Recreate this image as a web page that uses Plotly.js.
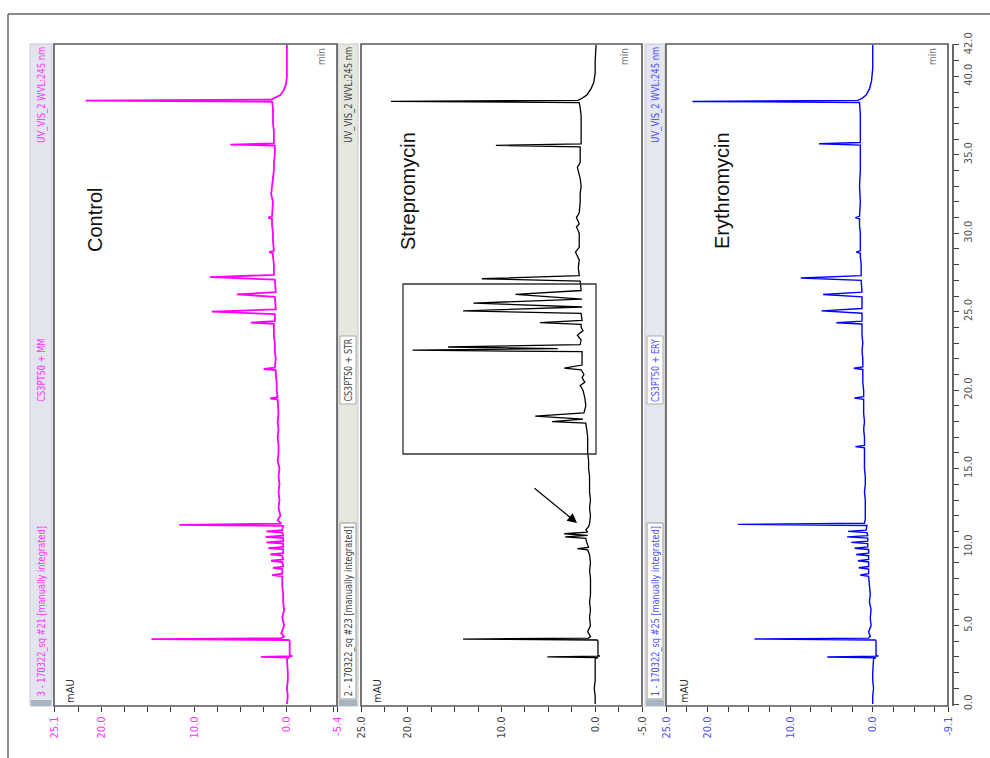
<!DOCTYPE html>
<html>
<head>
<meta charset="utf-8">
<script src="https://cdn.plot.ly/plotly-3.0.1.min.js"></script>
<style>html,body{margin:0;padding:0;background:#fff}#chart{width:990px;height:758px}</style>
</head>
<body>
<div id="chart"></div>
<script>
// ---------- DATA ----------
// Control (magenta): retention time (min) and signal (mAU)
const controlTime = [0,0.5,1,1.5,2,2.5,2.9,2.95,3.0,3.05,3.1,3.5,4.0,4.08,4.14,4.2,4.3,4.5,5,5.5,6,6.5,7,7.5,8,8.14,8.22,8.3,8.6,8.68,8.76,9.05,9.13,9.21,9.45,9.53,9.61,9.85,9.93,10.01,10.22,10.3,10.38,10.57,10.65,10.73,10.92,11.0,11.08,11.35,11.42,11.5,11.7,12,12.5,13,13.5,14,14.5,15,15.5,16,16.5,17,17.5,18,18.5,19,19.4,19.47,19.55,20,20.5,21,21.28,21.35,21.43,22,22.5,23,23.5,24,24.22,24.3,24.4,24.85,25.0,25.15,25.95,26.1,26.25,27.05,27.2,27.35,28,28.5,28.72,28.8,28.88,29.5,30,30.5,30.92,31.0,31.08,32,32.5,33,33.5,34,34.5,35,35.5,35.58,35.65,35.73,36.5,37,37.5,38,38.38,38.45,38.52,38.65,38.8,39.1,39.5,40,41,42];
const controlMAU  = [0,-0.1,0,-0.1,-0.1,0,0,-0.3,2.8,-0.6,-0.3,-0.3,-0.3,-0.2,14.6,0.6,0.3,0.6,0.3,0.5,0.3,0.4,0.4,0.5,0.5,0.5,1.6,0.5,0.5,1.5,0.4,0.5,1.7,0.4,0.5,1.8,0.4,0.4,2.0,0.4,0.4,2.2,0.4,0.4,2.3,0.4,0.5,2.2,0.5,0.4,11.6,0.6,1.0,0.7,0.9,0.8,0.9,0.8,0.9,0.8,1.0,0.9,0.9,1.0,0.9,1.0,0.9,1.0,1.0,1.8,1.0,1.1,1.1,1.2,1.2,2.5,1.3,1.2,1.3,1.3,1.4,1.4,1.4,3.9,1.3,1.3,8.1,1.2,1.3,5.4,1.2,1.3,8.3,1.4,1.4,1.5,1.5,1.9,1.4,1.5,1.5,1.6,1.6,2.0,1.6,1.5,1.7,1.6,1.5,1.4,1.4,1.3,1.3,1.3,6.1,1.4,1.4,1.5,1.5,1.5,1.6,21.7,1.7,1.2,0.7,0.35,0.1,0.0,0.0,0.0];

// Streptomycin (black)
const strepTime = [0,0.5,1,1.5,2,2.5,2.9,2.95,3.0,3.05,3.1,4.0,4.08,4.14,4.2,4.3,4.6,5,5.5,6,6.5,7,7.5,8,8.5,9,9.5,9.82,9.9,9.98,10.3,10.55,10.65,10.75,10.85,10.95,11.1,11.3,11.5,12,12.5,13,13.5,14,14.5,15,15.5,16,16.5,17,17.5,17.9,18.0,18.15,18.35,18.55,19,19.5,20,20.3,20.5,20.8,21,21.3,21.4,21.6,22,22.45,22.55,22.65,22.75,22.9,23.2,23.5,23.8,24,24.2,24.3,24.45,24.9,25.05,25.3,25.55,25.8,26.1,26.35,26.95,27.1,27.3,27.8,28.3,28.8,29.1,29.5,30,30.4,30.6,31,31.3,32,32.5,33,33.5,34.2,34.5,35,35.5,35.6,35.7,36.5,37,37.5,38,38.33,38.4,38.47,38.6,38.8,39.2,39.6,40.2,41,42];
const strepMAU  = [0,0,0.1,0,0,0,0,-0.3,5.1,-0.5,-0.3,-0.3,-0.2,14.1,0.7,0.5,0.8,0.5,0.6,0.5,0.6,0.5,0.5,0.5,0.6,0.5,0.6,0.8,1.9,0.7,0.9,1.0,3.2,0.8,3.3,0.8,1.0,0.7,0.6,0.5,0.6,0.5,0.6,0.6,0.6,0.7,0.7,0.8,0.8,0.8,0.9,1.0,4.6,1.3,6.4,1.2,1.0,1.1,1.3,1.6,1.1,1.4,1.2,1.5,3.3,1.4,1.4,1.4,19.5,4.0,15.7,1.6,1.5,1.9,1.3,1.5,1.5,5.9,1.4,1.5,14.1,1.4,13.0,1.4,8.5,1.5,1.6,12.1,1.7,1.8,1.7,2.1,1.7,1.7,1.7,2.0,1.7,2.0,1.7,1.6,1.6,1.5,1.6,1.9,1.6,1.6,1.6,10.6,1.5,1.5,1.5,1.5,1.6,1.7,21.8,1.8,1.4,0.9,0.45,0.15,0.0,0.0,-0.1];

// Erythromycin (blue)
const erythTime = [0,0.5,1,1.5,2,2.5,2.9,2.95,3.0,3.05,3.1,4.0,4.08,4.14,4.2,4.3,4.6,5,5.5,6,6.5,7,7.5,8,8.14,8.22,8.3,8.6,8.68,8.76,9.05,9.13,9.21,9.45,9.53,9.61,9.85,9.93,10.01,10.22,10.3,10.38,10.57,10.65,10.73,10.92,11.0,11.08,11.38,11.45,11.52,11.8,12.3,13,13.5,14,14.5,15,15.5,16,16.32,16.4,16.48,17,17.5,18,18.5,19,19.42,19.5,19.58,20,20.5,21,21.32,21.4,21.48,22,22.5,23,23.5,24,24.22,24.3,24.4,24.9,25.05,25.2,25.95,26.1,26.25,27.0,27.15,27.3,28,28.5,28.72,28.8,28.88,29.5,30,30.5,30.92,31.0,31.08,32,33,34,35,35.62,35.7,35.78,36.5,37.5,38.33,38.4,38.47,38.6,38.8,39.2,39.7,40.5,42];
const erythMAU  = [0,0,-0.1,0,0,-0.1,-0.1,-0.4,5.5,-0.7,-0.4,-0.4,-0.3,14.3,0.5,0.3,0.5,0.2,0.3,0.2,0.4,0.3,0.4,0.5,0.5,1.5,0.5,0.5,1.7,0.5,0.5,1.8,0.5,0.5,2.0,0.5,0.5,2.2,0.6,0.6,2.6,0.6,0.6,3.1,0.6,0.7,3.0,0.8,0.7,16.3,1.0,0.9,0.9,0.9,1.0,0.9,0.9,1.0,1.0,1.0,1.0,2.1,1.0,1.0,1.1,1.0,1.1,1.1,1.1,2.2,1.1,1.1,1.2,1.2,1.2,2.3,1.2,1.2,1.3,1.2,1.3,1.3,1.3,4.4,1.3,1.3,6.2,1.3,1.3,6.0,1.3,1.4,8.7,1.4,1.4,1.5,1.5,2.0,1.5,1.5,1.5,1.6,1.6,2.1,1.6,1.5,1.6,1.5,1.5,1.5,6.5,1.5,1.5,1.5,1.6,21.8,1.8,1.3,0.8,0.4,0.15,0.0,0.0];

// Tick values / labels
const mauTicks1 = [25.1,22.5,20,17.5,15,12.5,10,7.5,5,2.5,0,-2.5,-5,-5.4];
const mauText1  = ['25.1','','20.0','','','','10.0','','','','0.0','','','-5.4'];
const mauTicks2 = [25,22.5,20,17.5,15,12.5,10,7.5,5,2.5,0,-2.5,-5];
const mauText2  = ['25.0','','20.0','','','','10.0','','','','0.0','','-5.0'];
const mauTicks3 = [25,22.5,20,17.5,15,12.5,10,7.5,5,2.5,0,-2.5,-5,-7.5,-9.1];
const mauText3  = ['25.0','','20.0','','','','10.0','','','','0.0','','','','-9.1'];
const timeTicks = [0,1,2,3,4,5,6,7,8,9,10,11,12,13,14,15,16,17,18,19,20,21,22,23,24,25,26,27,28,29,30,31,32,33,34,35,36,37,38,39,40,41,42];
const timeLabelVals = [0,5,10,15,20,25,30,35,40,42];
const timeLabelText = ['0.0','5.0','10.0','15.0','20.0','25.0','30.0','35.0','40.0','42.0'];

const sampleNames = ['Control','Strepromycin','Erythromycin'];
const headerTop = ['UV_VIS_2 WVL:245 nm','UV_VIS_2 WVL:245 nm','UV_VIS_2 WVL:245 nm'];
const headerMid = ['CS3PT50 + MM','CS3PT50 + STR','CS3PT50 + ERY'];
const headerBot = ['3 - 170322_sq #21 [manually integrated]','2 - 170322_sq #23 [manually integrated]','1 - 170322_sq #25 [manually integrated]'];

// ---------- LAYOUT ----------
const W = 990, H = 758;
const px = x => x / W;
const py = y => 1 - y / H;
const NARROW = '"Liberation Sans Narrow", "DejaVu Sans Condensed", "Liberation Sans", Arial, sans-serif';
const SANS = '"Liberation Sans", Arial, sans-serif';

const lineColors = ['#ff00ff', '#000000', '#0000ff'];
const tickColors = ['#ff33ff', '#444444', '#4d4dff'];
const panelX = [[54, 337], [361, 642], [666, 948]];
const headerX = [[30, 52], [338, 358], [645, 665]];
const headerFill = ['#e2e4ee', '#e4e8de', '#e4e6f0'];
const panelTop = 44, panelBot = 706;

const traces = [
  {x: controlMAU, y: controlTime, xaxis: 'x', yaxis: 'y', type: 'scatter', mode: 'lines', line: {color: lineColors[0], width: 1.8}},
  {x: strepMAU, y: strepTime, xaxis: 'x2', yaxis: 'y', type: 'scatter', mode: 'lines', line: {color: lineColors[1], width: 1.3}},
  {x: erythMAU, y: erythTime, xaxis: 'x3', yaxis: 'y', type: 'scatter', mode: 'lines', line: {color: lineColors[2], width: 1.4}}
];

function xAxis(i, range, tv, tt) {
  return {
    domain: [px(panelX[i][0]), px(panelX[i][1])],
    range: range, anchor: 'y', autorange: false,
    tickmode: 'array', tickvals: tv, ticktext: tt,
    ticks: 'outside', ticklen: 5, tickwidth: 1, tickcolor: '#333',
    tickangle: -90, tickfont: {family: NARROW, size: 11, color: tickColors[i]},
    showgrid: false, zeroline: false, showline: false, fixedrange: true
  };
}

const shapes = [];
shapes.push({type: 'line', xref: 'paper', yref: 'paper', x0: px(8), x1: px(990), y0: py(14), y1: py(14), line: {color: '#666', width: 1.5}});
shapes.push({type: 'line', xref: 'paper', yref: 'paper', x0: px(8), x1: px(8), y0: py(14), y1: py(758), line: {color: '#666', width: 1.5}});
for (let i = 0; i < 3; i++) {
  shapes.push({type: 'rect', xref: 'paper', yref: 'paper', x0: px(headerX[i][0]), x1: px(headerX[i][1]), y0: py(panelBot), y1: py(panelTop), fillcolor: headerFill[i], line: {color: '#c8c8d0', width: 1}, layer: 'below'});
  if (i > 0) {
    shapes.push({type: 'rect', xref: 'paper', yref: 'paper', x0: px(headerX[i][0] + 2), x1: px(headerX[i][1] - 2), y0: py(699), y1: py(523), fillcolor: '#ffffff', line: {color: '#999', width: 1}, layer: 'below'});
    shapes.push({type: 'rect', xref: 'paper', yref: 'paper', x0: px(headerX[i][0] + 2), x1: px(headerX[i][1] - 2), y0: py(404), y1: py(336), fillcolor: '#ffffff', line: {color: '#aaa', width: 1}, layer: 'below'});
  }
  shapes.push({type: 'rect', xref: 'paper', yref: 'paper', x0: px(headerX[i][0] + 1), x1: px(headerX[i][1] - 1), y0: py(706), y1: py(700), fillcolor: '#a9b4c2', line: {width: 0}, layer: 'below'});
  shapes.push({type: 'rect', xref: 'paper', yref: 'paper', x0: px(panelX[i][0]), x1: px(panelX[i][1]), y0: py(panelBot), y1: py(panelTop), line: {color: '#555', width: 1.6}, fillcolor: 'rgba(0,0,0,0)', layer: 'above'});
}
shapes.push({type: 'rect', xref: 'paper', yref: 'paper', x0: px(403), x1: px(596), y0: py(454), y1: py(284), line: {color: '#333', width: 1.3}, fillcolor: 'rgba(0,0,0,0)'});

const annotations = [];
const labelX = [95, 408, 722];
const labelY = [220, 191, 191];
const minX = [321, 624, 932];
const mauX = [70, 377, 684];
const headerCX = [41, 348, 655];
for (let i = 0; i < 3; i++) {
  annotations.push({xref: 'paper', yref: 'paper', x: px(labelX[i]), y: py(labelY[i]), text: sampleNames[i], showarrow: false, textangle: -90, font: {family: SANS, size: 20, color: '#111'}, xanchor: 'center', yanchor: 'middle'});
  annotations.push({xref: 'paper', yref: 'paper', x: px(minX[i]), y: py(57), text: 'min', showarrow: false, textangle: -90, font: {family: NARROW, size: 10, color: '#777'}, xanchor: 'center', yanchor: 'middle'});
  annotations.push({xref: 'paper', yref: 'paper', x: px(mauX[i]), y: py(691), text: 'mAU', showarrow: false, textangle: -90, font: {family: NARROW, size: 11, color: '#333'}, xanchor: 'center', yanchor: 'middle'});
  const hc = i === 1 ? '#444' : tickColors[i];
  annotations.push({xref: 'paper', yref: 'paper', x: px(headerCX[i]), y: py(95), text: headerTop[i], showarrow: false, textangle: -90, font: {family: NARROW, size: 11, color: hc}, xanchor: 'center', yanchor: 'middle'});
  annotations.push({xref: 'paper', yref: 'paper', x: px(headerCX[i]), y: py(370), text: headerMid[i], showarrow: false, textangle: -90, font: {family: NARROW, size: 11, color: hc}, xanchor: 'center', yanchor: 'middle'});
  annotations.push({xref: 'paper', yref: 'paper', x: px(headerCX[i]), y: py(611), text: headerBot[i], showarrow: false, textangle: -90, font: {family: NARROW, size: 11, color: hc}, xanchor: 'center', yanchor: 'middle'});
}
annotations.push({xref: 'paper', yref: 'paper', x: px(577), y: py(523), ax: -44, ay: -36, text: '', showarrow: true, arrowhead: 2, arrowsize: 1.6, arrowwidth: 1.2, arrowcolor: '#000'});

const layout = {
  width: W, height: H,
  margin: {l: 0, r: 0, t: 0, b: 0},
  paper_bgcolor: '#ffffff', plot_bgcolor: 'rgba(0,0,0,0)',
  showlegend: false,
  font: {family: SANS},
  xaxis: xAxis(0, [25.1, -5.4], mauTicks1, mauText1),
  xaxis2: xAxis(1, [25, -5], mauTicks2, mauText2),
  xaxis3: xAxis(2, [25, -9.1], mauTicks3, mauText3),
  yaxis: {
    domain: [py(panelBot), py(panelTop)],
    range: [-0.127, 42.06], autorange: false,
    anchor: 'free', position: px(952), side: 'right',
    showline: true, linecolor: '#666', linewidth: 1.5,
    tickmode: 'array', tickvals: timeTicks,
    ticktext: timeTicks.map(t => { const k = timeLabelVals.indexOf(t); return k >= 0 ? timeLabelText[k] : ''; }),
    ticks: 'outside', ticklen: 5, tickcolor: '#444',
    tickangle: -90, tickfont: {family: NARROW, size: 11, color: '#555'},
    showgrid: false, zeroline: false, fixedrange: true
  },
  shapes: shapes,
  annotations: annotations
};

// condensed look for the header strip texts (target lengths in px)
const headerLengths = {};
headerTop.forEach(t => headerLengths[t] = 96);
headerMid.forEach(t => headerLengths[t] = 63);
headerBot.forEach(t => headerLengths[t] = 170);

Plotly.newPlot('chart', traces, layout, {staticPlot: true, displayModeBar: false}).then(gd => {
  gd.querySelectorAll('text.annotation-text').forEach(el => {
    const len = headerLengths[el.textContent];
    if (len) {
      el.setAttribute('textLength', len);
      el.setAttribute('lengthAdjust', 'spacingAndGlyphs');
    }
  });
});
</script>
</body>
</html>
